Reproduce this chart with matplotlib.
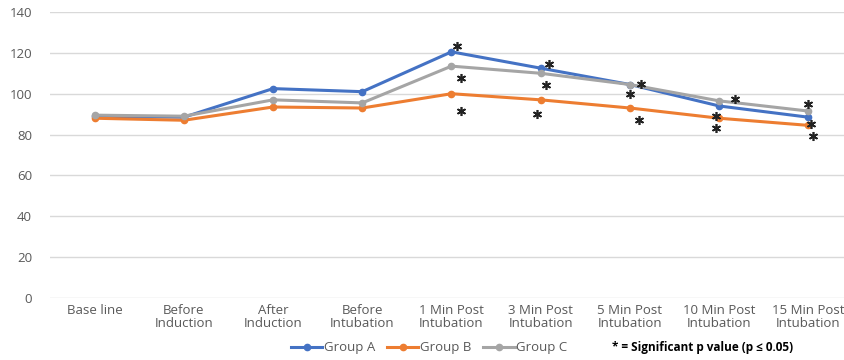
import matplotlib.pyplot as plt
from matplotlib.lines import Line2D

plt.rcParams['font.family'] = ['Open Sans', 'DejaVu Sans']

categories = ['Base line', 'Before\nInduction', 'After\nInduction', 'Before\nIntubation',
              '1 Min Post\nIntubation', '3 Min Post\nIntubation', '5 Min Post\nIntubation',
              '10 Min Post\nIntubation', '15 Min Post\nIntubation']
group_a = [89, 88.5, 102.5, 101, 120.5, 112.5, 104.5, 94, 88.5]
group_b = [88, 87, 93.5, 93, 100, 97, 93, 88, 84.5]
group_c = [89.5, 89, 97, 95.5, 113.5, 110, 104.5, 96.5, 91.5]

# significance asterisks: (category index, value)
star_x = [4.06, 4.11, 4.11, 5.09, 5.06, 4.96, 6.12, 6.0, 6.1, 7.18, 6.97, 6.97, 8.0, 8.03, 8.05]
star_y = [123.5, 107.5, 91.5, 114.5, 104.5, 90, 105, 100, 87, 97.5, 89, 83, 95, 85, 79.5]

colors = ['#4472C4', '#ED7D31', '#A5A5A5']
labels = ['Group A', 'Group B', 'Group C']

fig = plt.figure(figsize=(8.45, 3.6), dpi=100)
ax = fig.add_axes([50/845, 62/360, 803/845, 286/360])

x = range(len(categories))
for vals, c, lab in zip([group_a, group_b, group_c], colors, labels):
    ax.plot(x, vals, color=c, lw=2.2, marker='o', ms=4.5, label=lab, zorder=3)

ax.plot(star_x, star_y, ls='none', marker=(6, 2, 0), ms=6.5, mew=1.2,
        color='#222222', zorder=4)

ax.set_xlim(-0.5, len(categories) - 0.5)
ax.set_ylim(0, 140)
ax.set_yticks(range(0, 141, 20))
ax.set_xticks(list(x))
ax.set_xticklabels(categories, fontsize=9.5, color='#595959', linespacing=1.05)
ax.tick_params(axis='y', labelsize=9.5, labelcolor='#595959', length=0, pad=13)
ax.tick_params(axis='x', length=0, pad=4)
ax.grid(axis='y', color='#d9d9d9', lw=1)
ax.set_axisbelow(True)
for s in ax.spines.values():
    s.set_visible(False)

handles = [Line2D([], [], color=c, lw=2.2, marker='o', ms=4.5) for c in colors]
handles.append(Line2D([], [], color='none'))
leg = fig.legend(handles, labels + ['* = Significant p value (p \u2264 0.05)'],
                 loc='center', bbox_to_anchor=(542/845, 1 - 348/360), ncol=4,
                 frameon=False, fontsize=9.5, handlelength=2.4, handletextpad=0.1,
                 columnspacing=0.9)
for t in leg.get_texts()[:3]:
    t.set_color('#595959')
leg.get_texts()[3].set_fontweight('bold')
leg.get_texts()[3].set_fontsize(8.5)

fig.savefig('out.png', dpi=100)
